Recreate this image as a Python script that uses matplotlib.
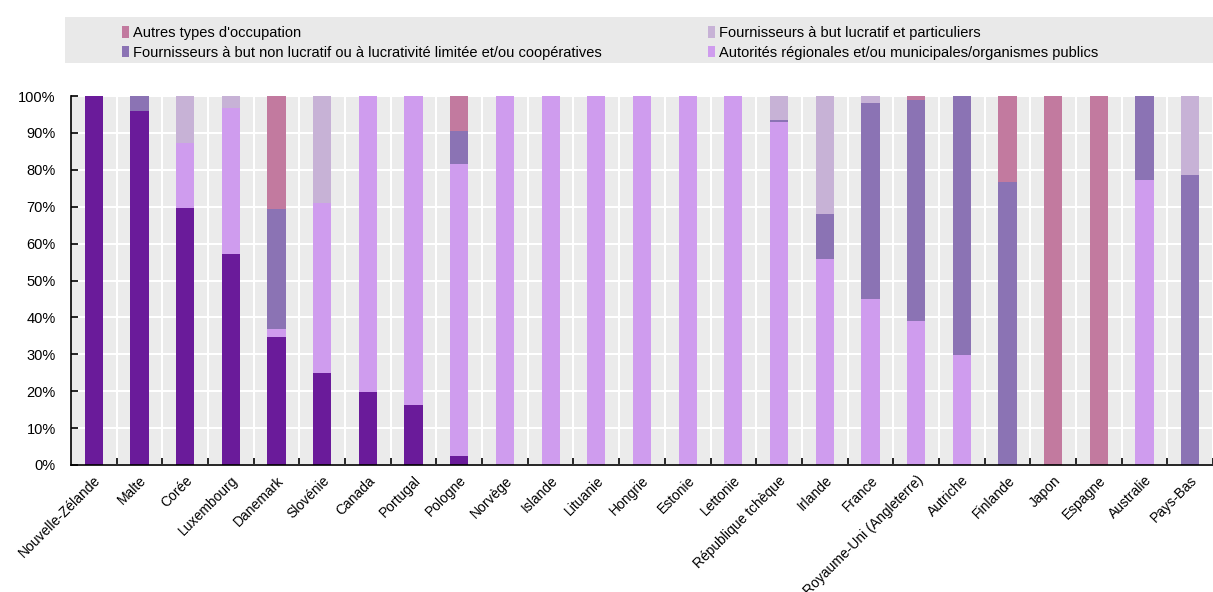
import matplotlib
matplotlib.use('Agg')
import matplotlib.pyplot as plt
from matplotlib.patches import Patch, Rectangle
from matplotlib.ticker import FixedLocator, PercentFormatter
import numpy as np

plt.rcParams['font.family'] = ['Liberation Sans', 'DejaVu Sans']

countries = ['Nouvelle-Zélande', 'Malte', 'Corée', 'Luxembourg', 'Danemark', 'Slovénie',
             'Canada', 'Portugal', 'Pologne', 'Norvège', 'Islande', 'Lituanie', 'Hongrie',
             'Estonie', 'Lettonie', 'République tchèque', 'Irlande', 'France',
             'Royaume-Uni (Angleterre)', 'Autriche', 'Finlande', 'Japon', 'Espagne',
             'Australie', 'Pays-Bas']

# shares in %, stacked from bottom
national = [100, 96, 69.7, 57.2, 34.7, 24.9, 19.8, 16.2, 2.5, 0, 0, 0, 0,
            0, 0, 0, 0, 0, 0, 0, 0, 0, 0, 0, 0]
regional = [0, 0, 17.6, 39.6, 2.2, 46.1, 80.2, 83.8, 79.0, 100, 100, 100, 100,
            100, 100, 93.0, 55.7, 45.0, 39.0, 29.8, 0, 0, 0, 77.3, 0]
non_profit = [0, 4, 0, 0, 32.5, 0, 0, 0, 8.9, 0, 0, 0, 0,
              0, 0, 0.4, 12.3, 53.1, 59.9, 70.2, 76.6, 0, 0, 22.7, 78.5]
for_profit = [0, 0, 12.7, 3.2, 0, 29.1, 0, 0, 0, 0, 0, 0, 0,
              0, 0, 6.6, 32.0, 1.9, 0, 0, 0, 0, 0, 0, 21.5]
other = [0, 0, 0, 0, 30.6, 0, 0, 0, 9.6, 0, 0, 0, 0,
         0, 0, 0, 0, 0, 1.1, 0, 23.4, 100, 100, 0, 0]

series = [
    (national, '#6a1b9a', None),
    (regional, '#cf9cee', 'Autorités régionales et/ou municipales/organismes publics'),
    (non_profit, '#8b73b4', 'Fournisseurs à but non lucratif ou à lucrativité limitée et/ou coopératives'),
    (for_profit, '#c7b2d6', 'Fournisseurs à but lucratif et particuliers'),
    (other, '#c27a9f', "Autres types d'occupation"),
]

fig = plt.figure(figsize=(12.13, 5.92), dpi=100)
ax = fig.add_axes([71 / 1213, 1 - 465 / 592, 1 - 71 / 1213, 369 / 592])
ax.set_facecolor('#ebebeb')

x = np.arange(len(countries))
bottom = np.zeros(len(countries))
for vals, color, label in series:
    vals = np.array(vals)
    ax.bar(x, vals, width=0.4, bottom=bottom, color=color, zorder=3)
    bottom += vals

ax.set_xlim(-0.5, len(countries) - 0.74)
ax.set_ylim(0, 100)
ax.yaxis.set_major_locator(FixedLocator(np.arange(0, 101, 10)))
ax.yaxis.set_major_formatter(PercentFormatter(decimals=0))
ax.grid(axis='y', color='white', linewidth=1.5, zorder=1)

ax.set_xticks(x)
ax.set_xticklabels(countries, rotation=45, ha='right', rotation_mode='anchor', fontsize=10)
ax.tick_params(axis='x', which='major', length=0, pad=6)
ax.set_xticks(np.arange(-0.5, len(countries), 1)[1:], minor=True)
ax.tick_params(axis='x', which='minor', direction='in', length=5, width=1.2)
ax.grid(axis='x', which='minor', color='white', linewidth=1.5, zorder=1)
ax.tick_params(axis='y', direction='in', length=5, width=1.2, labelsize=10.5, pad=11)

for s in ['top', 'right']:
    ax.spines[s].set_visible(False)
for s in ['left', 'bottom']:
    ax.spines[s].set_linewidth(1.2)
    ax.spines[s].set_zorder(4)

# legend band
fig.patches.append(Rectangle((65 / 1213, 1 - 63 / 592), 1 - 65 / 1213, 46 / 592,
                             transform=fig.transFigure, facecolor='#e9e9e9',
                             edgecolor='none', zorder=0))
handles = [Patch(facecolor=c, label=l) for _, c, l in series if l]
order = [3, 1, 2, 0]
handles = [handles[i] for i in order]
leg = fig.legend(handles=handles, ncol=2, loc='upper left',
                 bbox_to_anchor=(122 / 1213, 1 - 26 / 592), frameon=False,
                 fontsize=10.5, handlelength=0.45, handleheight=0.8,
                 handletextpad=0.3, columnspacing=7.3, labelspacing=0.4,
                 borderpad=0, borderaxespad=0)

fig.savefig('out.png', dpi=100)
